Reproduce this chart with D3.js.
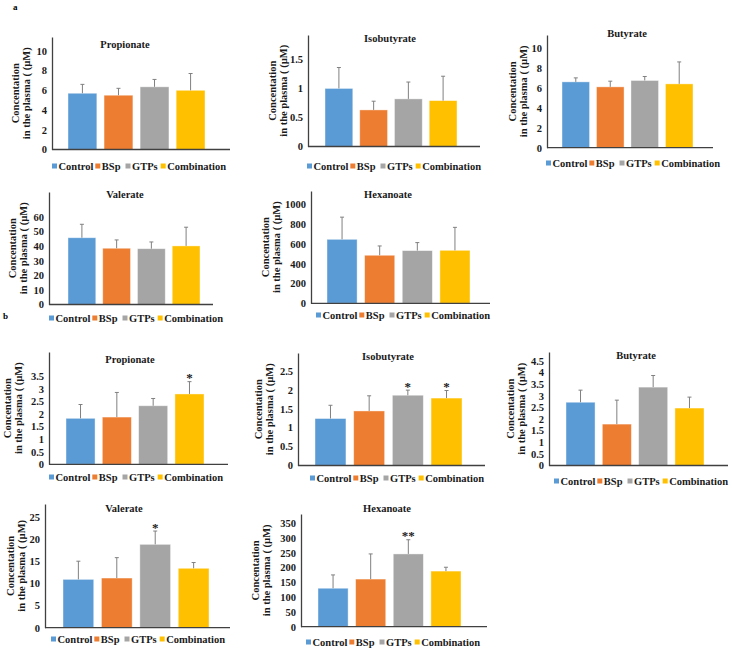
<!DOCTYPE html>
<html>
<head>
<meta charset="utf-8">
<script src="https://cdn.jsdelivr.net/npm/d3@7"></script>
<style>
  body { margin: 0; background: #fff; }
  svg text { font-family: "Liberation Serif", "Times New Roman", serif; font-weight: bold; }
</style>
</head>
<body>
<div id="chart"></div>
<script>
// groups and colours (Excel defaults)
var groups = ["Control", "BSp", "GTPs", "Combination"];
var groupColors = ["#5B9BD5", "#ED7D31", "#A5A5A5", "#FFC000"];
var acidNames = ["Propionate", "Isobutyrate", "Butyrate", "Valerate", "Hexanoate"];
var labelLine1 = "Concentation";
var labelLine2 = "in the plasma ( (µM)";

// panel a : means and upper error (SD)
var aMeans  = [[5.7, 5.5, 6.35, 6.0], [1.0, 0.63, 0.82, 0.79], [6.6, 6.1, 6.74, 6.4], [45.7, 38.5, 38.2, 40.1], [646, 485, 532, 535]];
var aErrors = [[0.9, 0.7, 0.75, 1.7], [0.36, 0.15, 0.29, 0.42], [0.4, 0.57, 0.4, 2.2], [9.2, 5.7, 4.6, 12.8], [224, 94, 81, 232]];
var aStars  = [["", "", "", ""], ["", "", "", ""], ["", "", "", ""], ["", "", "", ""], ["", "", "", ""]];
var aTicks  = [[0, 2, 4, 6, 8, 10], [0, 0.5, 1, 1.5], [0, 2, 4, 6, 8, 10], [0, 10, 20, 30, 40, 50, 60], [0, 200, 400, 600, 800, 1000]];
var aMax    = [11.4, 1.92, 11.3, 77, 1134];

// panel b
var bMeans  = [[1.83, 1.88, 2.33, 2.80], [1.24, 1.44, 1.855, 1.78], [2.72, 1.78, 3.37, 2.47], [10.9, 11.2, 18.8, 13.4], [130, 161, 246, 188]];
var bErrors = [[0.55, 0.98, 0.29, 0.49], [0.35, 0.40, 0.135, 0.2], [0.52, 1.03, 0.5, 0.47], [4.1, 4.6, 3.0, 1.3], [45, 85, 48, 13]];
var bStars  = [["", "", "", "*"], ["", "", "*", "*"], ["", "", "", ""], ["", "", "*", ""], ["", "", "**", ""]];
var bTicks  = [[0, 0.5, 1, 1.5, 2, 2.5, 3, 3.5], [0, 0.5, 1, 1.5, 2, 2.5], [0, 0.5, 1, 1.5, 2, 2.5, 3, 3.5, 4, 4.5], [0, 5, 10, 15, 20, 25], [0, 50, 100, 150, 200, 250, 300, 350]];
var bMax    = [4.47, 2.97, 4.88, 27.9, 381];

// where each small chart sits on the page
// axisX, baseY, topY, endX, barLeft, barRight, titleX, titleY, legendX, legendY, ylabX
var layoutA = [
    [52, 149.5, 37, 230, 68, 205, 125, 44, 52, 166, 15],
    [308, 146.5, 35, 480, 325, 457, 390, 38, 307, 166, 272],
    [547, 147.7, 35, 713, 562, 693, 627, 33, 546, 163, 512],
    [49, 304.5, 192, 213, 68, 200, 125, 194, 49, 318, 12],
    [311, 303.3, 191, 490, 327, 470, 388, 194, 316, 315, 265]
];
var layoutB = [
    [49, 464.3, 352, 228, 66, 204, 130, 359, 49, 477, 7],
    [298, 465.5, 353, 485, 315, 462, 388, 356, 310, 478, 258],
    [549, 465.5, 352, 728, 566, 704, 636, 355, 554, 481, 510],
    [45, 627.7, 504, 230, 63, 209, 124, 508, 51, 639, 10],
    [301, 626.7, 514, 487, 318, 461, 387, 508, 306, 642, 255]
];

var serif = "'Liberation Serif', 'Times New Roman', serif";

var svg = d3.select("#chart").append("svg")
    .attr("width", 732)
    .attr("height", 649)
    .attr("font-family", serif);

function drawPanel(L, title, means, errors, stars, ticks, yMax) {
    var g = svg.append("g");
    var axisX = L[0], baseY = L[1], topY = L[2], endX = L[3];

    var y = d3.scaleLinear().domain([0, yMax]).range([baseY, topY]);
    var x = d3.scaleBand().domain(groups).range([L[4], L[5]]).paddingInner(0.2).paddingOuter(0);

    // y axis
    var yAxis = g.append("g")
        .attr("transform", "translate(" + axisX + ",0)")
        .call(d3.axisLeft(y).tickValues(ticks).tickSize(0).tickPadding(5).tickSizeOuter(0)
            .tickFormat(function(d) { return String(d); }));
    yAxis.attr("font-family", serif);
    yAxis.select(".domain").attr("stroke", "#404040").attr("stroke-width", 1.3);
    yAxis.selectAll("text")
        .style("font-size", "10.5px")
        .attr("fill", "#1a1a1a");

    // bars
    g.selectAll("rect.bar")
        .data(groups)
        .enter()
        .append("rect")
        .attr("class", "bar")
        .attr("x", function(d) { return x(d); })
        .attr("y", function(d, i) { return y(means[i]); })
        .attr("width", x.bandwidth())
        .attr("height", function(d, i) { return baseY - y(means[i]); })
        .attr("fill", function(d, i) { return groupColors[i]; })
        .attr("stroke", "#ffffff")
        .attr("stroke-opacity", 0.5)
        .attr("stroke-width", 0.8);

    // error bars (plus only)
    groups.forEach(function(d, i) {
        var cx = x(d) + x.bandwidth() / 2;
        var y0 = y(means[i]), y1 = y(means[i] + errors[i]);
        g.append("line")
            .attr("x1", cx).attr("x2", cx).attr("y1", y0).attr("y2", y1)
            .attr("stroke", "#808080").attr("stroke-width", 1);
        g.append("line")
            .attr("x1", cx - 2).attr("x2", cx + 2).attr("y1", y1).attr("y2", y1)
            .attr("stroke", "#808080").attr("stroke-width", 1);
        if (stars[i]) {
            g.append("text")
                .attr("x", cx).attr("y", y1 + 0.5)
                .attr("text-anchor", "middle")
                .style("font-size", "13px")
                .attr("fill", "#222")
                .text(stars[i]);
        }
    });

    // x axis line
    g.append("line")
        .attr("x1", axisX).attr("x2", endX).attr("y1", baseY).attr("y2", baseY)
        .attr("stroke", "#404040").attr("stroke-width", 1.3);

    // title
    g.append("text")
        .attr("x", L[6]).attr("y", L[7] + 3.5)
        .attr("text-anchor", "middle")
        .style("font-size", "10.5px")
        .attr("fill", "#1a1a1a")
        .text(title);

    // y label, two rotated lines
    var cy = (baseY + topY) / 2;
    [labelLine1, labelLine2].forEach(function(t, k) {
        g.append("text")
            .attr("transform", "translate(" + (L[10] + k * 11.5 + 3.5) + "," + cy + ") rotate(-90)")
            .attr("text-anchor", "middle")
            .style("font-size", "10.5px")
            .attr("fill", "#1a1a1a")
            .text(t);
    });

    // legend
    var lx = L[8], ly = L[9];
    var gaps = [2, 5, 3, 0];
    groups.forEach(function(d, i) {
        g.append("rect")
            .attr("x", lx).attr("y", ly - 2.5)
            .attr("width", 5).attr("height", 5)
            .attr("fill", groupColors[i]);
        var t = g.append("text")
            .attr("x", lx + 6.5).attr("y", ly + 3.5)
            .style("font-size", "10.5px")
            .attr("fill", "#1a1a1a")
            .text(d);
        lx = lx + 6.5 + t.node().getComputedTextLength() + gaps[i];
    });
}

for (var i = 0; i < 5; i++) {
    drawPanel(layoutA[i], acidNames[i], aMeans[i], aErrors[i], aStars[i], aTicks[i], aMax[i]);
    drawPanel(layoutB[i], acidNames[i], bMeans[i], bErrors[i], bStars[i], bTicks[i], bMax[i]);
}

// panel letters
svg.append("text").attr("x", 13).attr("y", 10).style("font-size", "9px").text("a");
svg.append("text").attr("x", 3).attr("y", 319).style("font-size", "9px").text("b");
</script>
</body>
</html>
